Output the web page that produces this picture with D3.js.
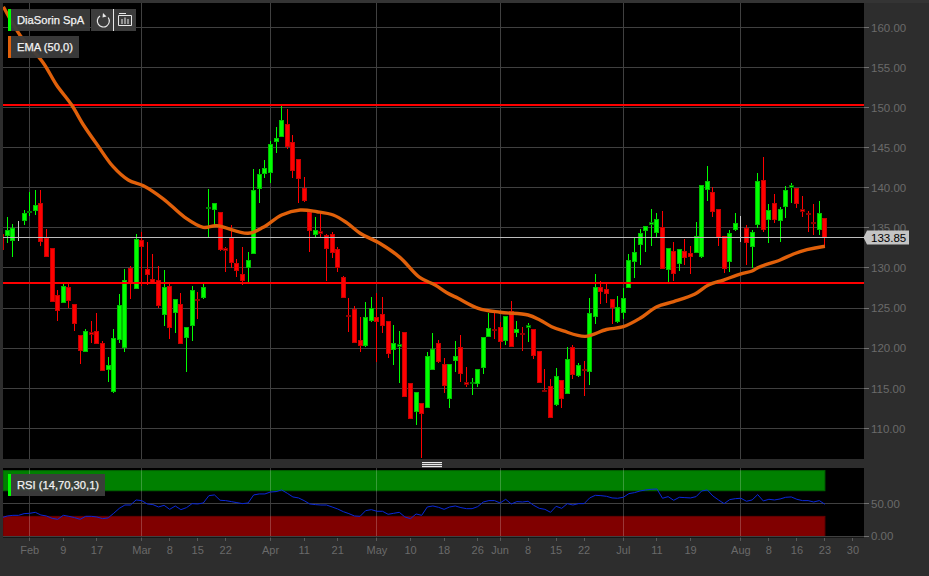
<!DOCTYPE html>
<html><head><meta charset="utf-8">
<script src="https://cdn.jsdelivr.net/npm/d3@7/dist/d3.min.js"></script>
<style>html,body{margin:0;padding:0;background:#2d2d2d;overflow:hidden}svg{display:block}text{font-family:"Liberation Sans",Arial,sans-serif}</style>
</head><body><svg id="c" width="929" height="576"></svg>
<script>
const firstIndex = -1;
const seriesOpen = [134.3,134.1,133.5,134.95,135.98,136.95,137.25,138.1,133.8,132.45,126.6,125.7,127.6,125.5,121.6,119.7,122,122.15,120.65,117.4,114.65,121.1,120.2,130,127.55,133.5,129.85,128.65,128.5,124.2,127.75,124.5,125.5,121.45,122.85,126.1,126.45,137.45,137.4,136.95,132.45,133.8,130.6,129.3,130.1,131.8,139.9,141.9,142,145.85,146.5,147.95,145.7,143.6,140,137,134.35,134.6,134.1,134.25,132.35,128.85,124.1,124.85,121,120.4,123.5,123.95,124.25,123.45,119.9,120.25,122,115.7,112.1,113.15,112.6,117.45,120.65,118.05,113.85,118.55,120.15,115.8,115.65,115.6,117.6,121.55,122.4,122.6,121,124.7,121.95,121.85,122.7,122.35,119.6,114.8,115.3,113,116,114.4,120.1,116.65,117.4,117.15,124.05,127.65,127.4,126.15,123.4,124.5,127.55,130.85,133,134.75,135.5,134.5,135.05,129.85,132.1,130.7,132.1,131.9,132,131.5,139.9,139.5,137.3,134,130.8,134.9,135.6,134.95,132.8,135.55,141,136.05,138.05,135.95,137.7,140.15,139.95,137.3,136.8,135.75,134.9,136.2];
const seriesHigh = [134.3,136.3,135.45,135.9,137.2,139.5,139.7,139.7,134.9,132.45,127.3,128.1,128.1,125.5,121.6,122.35,123.35,124.35,120.95,118.85,122.35,126.7,129.85,130.25,134.3,134.5,133.2,131.75,130.3,129.75,128.3,126.1,126.85,122.7,127.7,127,128,139.9,138.15,136.95,132.65,135.3,131.1,132.65,132,142.3,142.3,143.45,145.85,147.55,150.2,149.8,146.6,143.6,141.4,137.25,136.4,136.85,134.2,134.55,132.6,129,126.2,125.2,123.95,125.7,126.4,126.9,126.35,123.45,122.95,122.15,122,115.7,114.5,113.15,119.55,121.85,121,118.75,118.05,120.9,121.6,117.7,116.25,117.35,121.4,124.35,124.55,123.3,124,125.9,123.45,122.6,123.1,122.35,119.6,117.35,116.1,117.5,116,120.2,120.45,118.1,118.45,126.2,129.2,128.4,128.1,126.15,126.5,127.45,131.7,133.75,134.85,135.25,137.3,136.8,137.1,132.45,133.2,132.4,133.6,132.75,135.7,140.3,142.7,140.05,137.3,134,134.8,136.8,136.5,135.3,134.8,141.8,143.8,137.95,139.2,137.65,140.25,140.65,139.95,139,137.15,137.95,138.3,136.2];
const seriesLow = [132.45,133.15,131.4,133.4,135.3,136.5,136.6,132.8,131.6,125.9,123.35,125.7,125,122.2,118,119.6,120.7,120.6,117.25,115.75,114.4,120.7,119.5,126.1,127.55,127.7,127.9,128,125,122.8,121.1,121.85,120.65,117,120.85,123.65,126.15,133.7,135.4,132.1,129.55,130,128.9,127.9,128.2,131.8,138.05,141.2,140.55,144.4,146.5,144.9,141.2,138.15,138.25,132.05,133.7,133.9,128.4,131.2,129.45,126.35,122.05,120.7,119.55,120.1,123.3,118.3,121.95,118.75,117.95,115.6,114.05,111.3,110.45,106.25,112.6,117.45,118.1,114.45,112.6,117,115.75,115.1,114.15,115.2,116.75,121.45,121.1,119.85,120.45,120.35,121.45,119.7,120.8,118.6,115.7,114.55,111.45,112.8,112.6,114.3,116.1,116.45,114.05,115.4,123,125.45,125.6,123,123.1,123.7,127.55,128.7,130.4,132.05,132.8,133.7,130,128.25,128.4,129.65,130.35,129.2,132,131.3,138.4,136.4,132.75,129.4,129.55,134.6,133.2,130.4,130,134.95,134.55,133.15,135.55,133.3,136.25,138.05,137.45,136.4,134.5,134.1,134.1,132.45];
const seriesClose = [132.45,134.7,135.03,134.95,136.85,137.05,137.85,133.4,131.6,125.9,124.7,127.7,126,123.15,119.7,122.2,121.7,120.7,117.25,117.85,121.3,125.4,128.5,128.25,133.6,132.8,129.25,128.25,125.4,127.6,122.7,126.1,120.65,122.7,127.2,125.95,127.65,137.55,138.15,132.3,132.25,130.8,129.7,128.6,131,139.7,141.7,142.5,145.5,146.2,148.45,145.2,142.2,141.25,138.5,134.75,134.8,134.3,132.45,132,130.1,126.35,123.95,120.7,120.35,123.9,125,123.45,122.9,119.45,120.6,120.55,114.05,111.3,114.5,111.9,119,119.95,118.4,115.4,118.05,119.05,116.95,115.6,115.8,117.35,121.4,122.5,122.25,120.85,124,120.35,122.35,121.7,122.9,119.1,115.7,114.65,111.45,116.55,113.75,118.65,116.75,117.85,117.3,124.35,127.65,127.15,126.9,125.2,125.1,126.25,130.95,132,134.35,135.25,135.75,136.15,130,132.45,129.3,132.4,131.3,131.5,133.95,140.3,140.85,137.15,133.8,130.05,134.35,135.65,135.6,133.15,134.5,140.9,134.9,137.2,136.05,137.3,139.7,140.35,138.05,137,136.7,135.65,136.9,133.85];

const emaIndex = [-0.7,2.3,6.4,8.8,11.5,13.6,16.3,18.9,21.6,24.3,27.9,31.7,35,37.4,43,45.7,49,52.3,55.3,58.2,60.6,63,66.5,70.1,73.7,76.4,78.5,80.5,84.1,88,93,95.1,97.2,99.3,103.2,107,110,113,116,119,122.8,125.2,127.9,130.9,133,134.2,138,140.4,142.8,146];
const emaValues = [162.58,159.0,155.6,152.82,150.32,147.83,145.12,142.63,140.97,140.26,138.6,136.32,135.07,135.27,134.33,135.07,136.61,137.23,137.02,136.61,135.65,134.33,133.08,131.33,128.79,127.88,126.92,126.22,124.97,124.48,124.14,123.52,122.68,122.15,121.48,122.33,122.68,123.73,125.17,125.8,126.76,127.88,128.5,129.25,129.63,130.09,131,131.75,132.28,132.71];

const rsiValues = [28.1,30.6,31.6,31.6,34.2,34.7,36.2,32.1,30.6,27,25.5,31.6,30.1,28.1,25.5,30.1,30.1,29.1,26.5,27.6,34.7,42.3,47.4,47.4,55.1,54.1,49,48,44.4,46.9,40.8,45.9,40.3,43.4,49.5,49,50.5,61.7,62.8,54.6,54.1,52.6,51,49.5,50.5,62.8,64.3,64.3,67.3,67.9,70.4,65.3,59.7,58.2,54.1,49,48,47.4,47.4,44.4,41.3,37.2,34.2,30.6,30.1,38.8,40.3,37.8,37.8,33.2,34.7,36.2,29.1,26.5,33.7,31.6,44.4,45.9,43.9,40.8,44.4,45.9,43.4,41.8,41.8,44.9,52,54.1,54.1,50.5,56.1,49,52.6,52,53.1,46.9,42.3,40.8,36.2,45.4,42.3,49.5,47.4,49.5,49.5,58.2,62.2,61.7,60.7,58.2,57.7,59.2,64.8,66.3,68.9,70.4,71.4,71.9,57.7,60.2,54.6,59.2,58.7,58.2,60.2,68.9,70.4,61.2,55.1,49.5,55.6,57.1,57.7,53.1,55.1,63.3,53.6,56.1,55.1,56.6,59.2,59.7,56.1,54.1,54.1,52,54.1,48.5];

const timeTickIndex = [4,10,16,24,29,34,39,47,53,59,66,72,78,84,88,93,98,103,110,116,122,131,136,141,146,151];
const timeTickLabels = ["Feb","9","17","Mar","8","15","22","Apr","11","21","May","10","18","26","Jun","8","15","22","Jul","11","19","Aug","8","16","23","30"];
const monthTicks = ["Feb","Mar","Apr","May","Jun","Jul","Aug"];
const priceTicks = [160,155,150,145,140,135,130,125,120,115,110];
const rsiTicks = [50,0];
const resistanceLevels = [150.32,128.13];
const lastPrice = 133.85;
const rsiBands = [[70,100,"#008000","#006400"],[0,30,"#800000","#660000"]];
const titleLabel = "DiaSorin SpA", emaLabel = "EMA (50,0)", rsiLabel = "RSI (14,70,30,1)";

const W=929,H=576, L=3,R=864,T=3,B=459, RT=468,RB=537.5;
const BG="#2d2d2d",GRID="#404040",AX="#6a6a6a",TICK="#707070";
const x=d3.scaleLinear().domain([-1,151]).range([1.7,852.9]);
const y=d3.scaleLinear().domain([110,160]).range([428.4,27.4]);
const yr=d3.scaleLinear().domain([0,100]).range([536,470.6]);
const svg=d3.select("#c");
svg.append("rect").attr("width",W).attr("height",H).attr("fill",BG);
svg.append("rect").attr("width",W).attr("height",3).attr("fill","#343434");
const defs=svg.append("defs");
defs.append("clipPath").attr("id","m").append("rect").attr("x",L).attr("y",T).attr("width",R-L).attr("height",B-T);
defs.append("clipPath").attr("id","r").append("rect").attr("x",L).attr("y",RT).attr("width",R-L).attr("height",RB-RT);
svg.append("rect").attr("x",L).attr("y",T).attr("width",R-L).attr("height",B-T).attr("fill","#000");
svg.append("rect").attr("x",L).attr("y",RT).attr("width",R-L).attr("height",RB-RT).attr("fill","#000");
const px=v=>Math.round(v)+.5;
const monthIdx=timeTickIndex.filter((d,i)=>monthTicks.includes(timeTickLabels[i]));

// main grid
const gm=svg.append("g").attr("clip-path","url(#m)").attr("shape-rendering","crispEdges");
gm.selectAll(".h").data(priceTicks).join("line").attr("x1",L).attr("x2",R).attr("y1",d=>px(y(d)-.5)).attr("y2",d=>px(y(d)-.5)).attr("stroke",GRID);
gm.selectAll(".v").data(monthIdx).join("line").attr("x1",d=>px(x(d)-.5)).attr("x2",d=>px(x(d)-.5)).attr("y1",T).attr("y2",B).attr("stroke",GRID);

// candles
const idx=d3.range(seriesOpen.length);
const col=i=>seriesClose[i]>seriesOpen[i]?["#00ff00","#00c000","#007a00"]:seriesClose[i]<seriesOpen[i]?["#ff0000","#c80000","#8a0000"]:["#c8c8c8","#8a8a8a","#8a8a8a"];
const xc=i=>Math.floor(x(i+firstIndex))+.5;
const bh=i=>Math.max(0,Math.round(Math.abs(y(seriesOpen[i])-y(seriesClose[i]))));
const gc=svg.append("g").attr("clip-path","url(#m)").attr("shape-rendering","crispEdges");
gc.selectAll(".w").data(idx).join("line").attr("x1",xc).attr("x2",xc)
  .attr("y1",i=>y(seriesHigh[i])).attr("y2",i=>y(seriesLow[i])).attr("stroke",i=>col(i)[0]);
gc.selectAll(".b").data(idx).join("rect").attr("x",i=>xc(i)-2).attr("width",4)
  .attr("y",i=>Math.round(y(Math.max(seriesOpen[i],seriesClose[i])))+.5)
  .attr("height",bh)
  .attr("fill",i=>col(i)[0]).attr("stroke",i=>bh(i)<=2?col(i)[2]:col(i)[1]);

// last price line, levels, EMA
const gl=svg.append("g").attr("clip-path","url(#m)");
gl.append("line").attr("x1",L).attr("x2",R).attr("y1",y(lastPrice)).attr("y2",y(lastPrice)).attr("stroke","#bdbdbd").attr("stroke-width",1).attr("shape-rendering","crispEdges");
gl.selectAll(".l").data(resistanceLevels).join("line").attr("x1",L).attr("x2",R).attr("y1",d=>y(d)).attr("y2",d=>y(d)).attr("stroke","#ff0000").attr("stroke-width",2);
gl.append("path").attr("d",d3.line().x(d=>x(d[0])).y(d=>y(d[1])).curve(d3.curveCatmullRom.alpha(.5))(emaIndex.map((d,i)=>[d,emaValues[i]])))
  .attr("fill","none").attr("stroke","#e0600a").attr("stroke-width",3.4).attr("stroke-linejoin","round");

// price axis
const ap=svg.append("g");
ap.selectAll(".t").data(priceTicks).join("line").attr("x1",R).attr("x2",R+5).attr("y1",d=>px(y(d)-.5)).attr("y2",d=>px(y(d)-.5)).attr("stroke",TICK).attr("shape-rendering","crispEdges");
ap.selectAll(".x").data(priceTicks).join("text").attr("x",871).attr("y",d=>y(d)+4.2).attr("font-size",11.5).attr("fill",AX).text(d=>d3.format(".2f")(d));
// last price label
const ly=Math.round(y(lastPrice));
svg.append("path").attr("d",`M863.5 ${ly+.5}L867 ${ly-6.5}H909V${ly+7.5}H867Z`).attr("fill","#c4c4c4");
svg.append("text").attr("x",871).attr("y",ly+4.5).attr("font-size",11.5).attr("fill","#000").text(d3.format(".2f")(lastPrice));

// splitter
svg.append("g").selectAll("rect").data([0,2,4]).join("rect").attr("x",422).attr("width",20).attr("y",d=>462+d).attr("height",1.2).attr("fill","#e8e8e8");

// RSI panel
const gr=svg.append("g").attr("clip-path","url(#r)");
gr.selectAll(".band").data(rsiBands).join("rect").attr("x",L).attr("width",x(146)-L)
  .attr("y",d=>yr(d[1])).attr("height",d=>yr(d[0])-yr(d[1])+.5).attr("fill",d=>d[2]).attr("stroke",d=>d[3]).attr("stroke-width",1);
gr.selectAll(".v").data(monthIdx).join("line").attr("x1",d=>px(x(d)-.5)).attr("x2",d=>px(x(d)-.5)).attr("y1",RT).attr("y2",RB).attr("stroke","#ffffff").attr("stroke-opacity",.22).attr("shape-rendering","crispEdges");
gr.selectAll(".h").data(rsiTicks).join("line").attr("x1",L).attr("x2",R).attr("y1",d=>px(yr(d)-.5)).attr("y2",d=>px(yr(d)-.5)).attr("stroke",GRID).attr("shape-rendering","crispEdges");
gr.append("path").attr("d",d3.line().x((d,i)=>x(i+firstIndex)).y(d=>yr(d))(rsiValues)).attr("fill","none").attr("stroke","#0a28d8").attr("stroke-width",1);
const ar=svg.append("g");
ar.selectAll(".t").data(rsiTicks).join("line").attr("x1",R).attr("x2",R+5).attr("y1",d=>px(yr(d)-.5)).attr("y2",d=>px(yr(d)-.5)).attr("stroke",TICK).attr("shape-rendering","crispEdges");
ar.selectAll(".x").data(rsiTicks).join("text").attr("x",871).attr("y",d=>yr(d)+4.2).attr("font-size",11.5).attr("fill",AX).text(d=>d3.format(".2f")(d));

// time axis
const at=svg.append("g");
at.selectAll(".t").data(timeTickIndex).join("line").attr("x1",d=>px(x(d)-.5)).attr("x2",d=>px(x(d)-.5)).attr("y1",RB).attr("y2",RB+3).attr("stroke","#5a5a5a").attr("shape-rendering","crispEdges");
at.selectAll(".x").data(timeTickIndex).join("text").attr("x",d=>x(d)).attr("y",554).attr("text-anchor","middle").attr("font-size",11).attr("fill",AX).text((d,i)=>timeTickLabels[i]);

// legends
function legend(yy,w,stripe,label){
  const g=svg.append("g");
  g.append("rect").attr("x",8).attr("y",yy).attr("width",w).attr("height",22).attr("fill","#3c3c3c").attr("fill-opacity",.95);
  g.append("rect").attr("x",8).attr("y",yy).attr("width",3).attr("height",22).attr("fill",stripe);
  g.append("text").attr("x",17).attr("y",yy+15).attr("font-size",11.2).attr("fill","#f2f2f2").attr("stroke","#f2f2f2").attr("stroke-width",.25).text(label);
}
legend(9,82,"#00ff00",titleLabel);
legend(36,71,"#e0600a",emaLabel);
legend(474,97,"#00ff00",rsiLabel);
svg.append("rect").attr("x",91).attr("y",9).attr("width",22).attr("height",22).attr("fill","#3c3c3c");
svg.append("rect").attr("x",113).attr("y",9).attr("width",1).attr("height",22).attr("fill","#e8e8e8");
svg.append("rect").attr("x",114).attr("y",9).attr("width",22).attr("height",22).attr("fill","#3c3c3c");
// reload icon
svg.append("path").attr("d","M100 16A6 6 0 1 0 108.2 17.5").attr("fill","none").attr("stroke","#e8e8e8").attr("stroke-width",1.2);
svg.append("path").attr("d","M103 13L106.5 16.5L102.5 17.5Z").attr("fill","#e8e8e8");
// bars icon
svg.append("path").attr("d","M118.5 15.5H131.5V25.5H118.5Z M122 19V24 M125 17.5V24 M128 19V24 M119 13.5H126").attr("fill","none").attr("stroke","#e8e8e8").attr("stroke-width",1);
</script></body></html>
